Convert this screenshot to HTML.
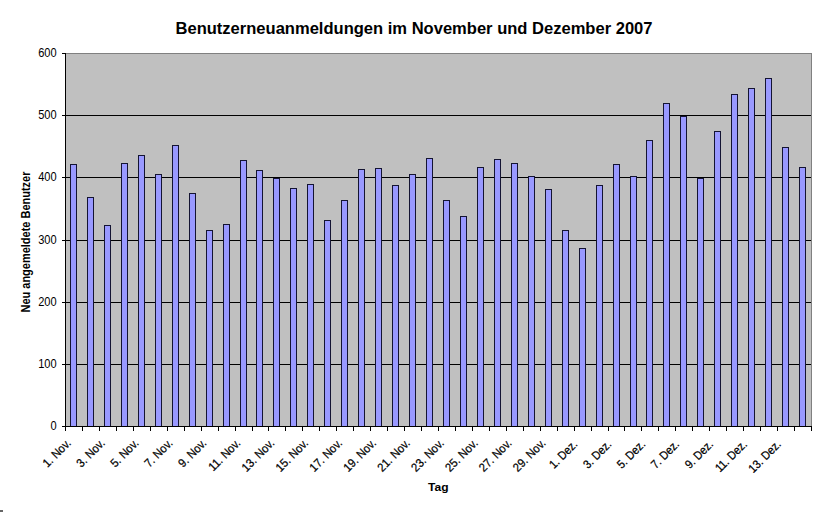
<!DOCTYPE html><html><head><meta charset="utf-8"><style>html,body{margin:0;padding:0;background:#fff;width:822px;height:512px;overflow:hidden}svg{display:block}text{font-family:"Liberation Sans",sans-serif}</style></head><body>
<svg width="822" height="512" viewBox="0 0 822 512">
<rect x="0" y="0" width="822" height="512" fill="#fff"/>
<rect x="65" y="53" width="746" height="373" fill="#c0c0c0"/>
<g shape-rendering="crispEdges">
<path d="M65 53.5H811.5V426" fill="none" stroke="#808080" stroke-width="1"/>
<path d="M65 364.5H811" stroke="#000" stroke-width="1"/>
<path d="M65 302.5H811" stroke="#000" stroke-width="1"/>
<path d="M65 240.5H811" stroke="#000" stroke-width="1"/>
<path d="M65 177.5H811" stroke="#000" stroke-width="1"/>
<path d="M65 115.5H811" stroke="#000" stroke-width="1"/>
<rect x="70.5" y="164.5" width="6" height="262" fill="#9999ff" stroke="#141432" stroke-width="1"/>
<rect x="87.5" y="197.5" width="6" height="229" fill="#9999ff" stroke="#141432" stroke-width="1"/>
<rect x="104.5" y="225.5" width="6" height="201" fill="#9999ff" stroke="#141432" stroke-width="1"/>
<rect x="121.5" y="163.5" width="6" height="263" fill="#9999ff" stroke="#141432" stroke-width="1"/>
<rect x="138.5" y="155.5" width="6" height="271" fill="#9999ff" stroke="#141432" stroke-width="1"/>
<rect x="155.5" y="174.5" width="6" height="252" fill="#9999ff" stroke="#141432" stroke-width="1"/>
<rect x="172.5" y="145.5" width="6" height="281" fill="#9999ff" stroke="#141432" stroke-width="1"/>
<rect x="189.5" y="193.5" width="6" height="233" fill="#9999ff" stroke="#141432" stroke-width="1"/>
<rect x="206.5" y="230.5" width="6" height="196" fill="#9999ff" stroke="#141432" stroke-width="1"/>
<rect x="223.5" y="224.5" width="6" height="202" fill="#9999ff" stroke="#141432" stroke-width="1"/>
<rect x="240.5" y="160.5" width="6" height="266" fill="#9999ff" stroke="#141432" stroke-width="1"/>
<rect x="256.5" y="170.5" width="6" height="256" fill="#9999ff" stroke="#141432" stroke-width="1"/>
<rect x="273.5" y="178.5" width="6" height="248" fill="#9999ff" stroke="#141432" stroke-width="1"/>
<rect x="290.5" y="188.5" width="6" height="238" fill="#9999ff" stroke="#141432" stroke-width="1"/>
<rect x="307.5" y="184.5" width="6" height="242" fill="#9999ff" stroke="#141432" stroke-width="1"/>
<rect x="324.5" y="220.5" width="6" height="206" fill="#9999ff" stroke="#141432" stroke-width="1"/>
<rect x="341.5" y="200.5" width="6" height="226" fill="#9999ff" stroke="#141432" stroke-width="1"/>
<rect x="358.5" y="169.5" width="6" height="257" fill="#9999ff" stroke="#141432" stroke-width="1"/>
<rect x="375.5" y="168.5" width="6" height="258" fill="#9999ff" stroke="#141432" stroke-width="1"/>
<rect x="392.5" y="185.5" width="6" height="241" fill="#9999ff" stroke="#141432" stroke-width="1"/>
<rect x="409.5" y="174.5" width="6" height="252" fill="#9999ff" stroke="#141432" stroke-width="1"/>
<rect x="426.5" y="158.5" width="6" height="268" fill="#9999ff" stroke="#141432" stroke-width="1"/>
<rect x="443.5" y="200.5" width="6" height="226" fill="#9999ff" stroke="#141432" stroke-width="1"/>
<rect x="460.5" y="216.5" width="6" height="210" fill="#9999ff" stroke="#141432" stroke-width="1"/>
<rect x="477.5" y="167.5" width="6" height="259" fill="#9999ff" stroke="#141432" stroke-width="1"/>
<rect x="494.5" y="159.5" width="6" height="267" fill="#9999ff" stroke="#141432" stroke-width="1"/>
<rect x="511.5" y="163.5" width="6" height="263" fill="#9999ff" stroke="#141432" stroke-width="1"/>
<rect x="528.5" y="176.5" width="6" height="250" fill="#9999ff" stroke="#141432" stroke-width="1"/>
<rect x="545.5" y="189.5" width="6" height="237" fill="#9999ff" stroke="#141432" stroke-width="1"/>
<rect x="562.5" y="230.5" width="6" height="196" fill="#9999ff" stroke="#141432" stroke-width="1"/>
<rect x="579.5" y="248.5" width="6" height="178" fill="#9999ff" stroke="#141432" stroke-width="1"/>
<rect x="596.5" y="185.5" width="6" height="241" fill="#9999ff" stroke="#141432" stroke-width="1"/>
<rect x="613.5" y="164.5" width="6" height="262" fill="#9999ff" stroke="#141432" stroke-width="1"/>
<rect x="630.5" y="176.5" width="6" height="250" fill="#9999ff" stroke="#141432" stroke-width="1"/>
<rect x="646.5" y="140.5" width="6" height="286" fill="#9999ff" stroke="#141432" stroke-width="1"/>
<rect x="663.5" y="103.5" width="6" height="323" fill="#9999ff" stroke="#141432" stroke-width="1"/>
<rect x="680.5" y="116.5" width="6" height="310" fill="#9999ff" stroke="#141432" stroke-width="1"/>
<rect x="697.5" y="178.5" width="6" height="248" fill="#9999ff" stroke="#141432" stroke-width="1"/>
<rect x="714.5" y="131.5" width="6" height="295" fill="#9999ff" stroke="#141432" stroke-width="1"/>
<rect x="731.5" y="94.5" width="6" height="332" fill="#9999ff" stroke="#141432" stroke-width="1"/>
<rect x="748.5" y="88.5" width="6" height="338" fill="#9999ff" stroke="#141432" stroke-width="1"/>
<rect x="765.5" y="78.5" width="6" height="348" fill="#9999ff" stroke="#141432" stroke-width="1"/>
<rect x="782.5" y="147.5" width="6" height="279" fill="#9999ff" stroke="#141432" stroke-width="1"/>
<rect x="799.5" y="167.5" width="6" height="259" fill="#9999ff" stroke="#141432" stroke-width="1"/>
<path d="M65.5 53V426.5H812" fill="none" stroke="#000" stroke-width="1"/>
<path d="M62 426.5H66" stroke="#000" stroke-width="1"/>
<path d="M62 364.5H66" stroke="#000" stroke-width="1"/>
<path d="M62 302.5H66" stroke="#000" stroke-width="1"/>
<path d="M62 240.5H66" stroke="#000" stroke-width="1"/>
<path d="M62 177.5H66" stroke="#000" stroke-width="1"/>
<path d="M62 115.5H66" stroke="#000" stroke-width="1"/>
<path d="M62 53.5H66" stroke="#000" stroke-width="1"/>
<path d="M65.5 426V431" stroke="#000" stroke-width="1"/>
<path d="M82.5 426V431" stroke="#000" stroke-width="1"/>
<path d="M99.5 426V431" stroke="#000" stroke-width="1"/>
<path d="M116.5 426V431" stroke="#000" stroke-width="1"/>
<path d="M133.5 426V431" stroke="#000" stroke-width="1"/>
<path d="M150.5 426V431" stroke="#000" stroke-width="1"/>
<path d="M167.5 426V431" stroke="#000" stroke-width="1"/>
<path d="M184.5 426V431" stroke="#000" stroke-width="1"/>
<path d="M201.5 426V431" stroke="#000" stroke-width="1"/>
<path d="M218.5 426V431" stroke="#000" stroke-width="1"/>
<path d="M235.5 426V431" stroke="#000" stroke-width="1"/>
<path d="M252.5 426V431" stroke="#000" stroke-width="1"/>
<path d="M268.5 426V431" stroke="#000" stroke-width="1"/>
<path d="M285.5 426V431" stroke="#000" stroke-width="1"/>
<path d="M302.5 426V431" stroke="#000" stroke-width="1"/>
<path d="M319.5 426V431" stroke="#000" stroke-width="1"/>
<path d="M336.5 426V431" stroke="#000" stroke-width="1"/>
<path d="M353.5 426V431" stroke="#000" stroke-width="1"/>
<path d="M370.5 426V431" stroke="#000" stroke-width="1"/>
<path d="M387.5 426V431" stroke="#000" stroke-width="1"/>
<path d="M404.5 426V431" stroke="#000" stroke-width="1"/>
<path d="M421.5 426V431" stroke="#000" stroke-width="1"/>
<path d="M438.5 426V431" stroke="#000" stroke-width="1"/>
<path d="M455.5 426V431" stroke="#000" stroke-width="1"/>
<path d="M472.5 426V431" stroke="#000" stroke-width="1"/>
<path d="M489.5 426V431" stroke="#000" stroke-width="1"/>
<path d="M506.5 426V431" stroke="#000" stroke-width="1"/>
<path d="M523.5 426V431" stroke="#000" stroke-width="1"/>
<path d="M540.5 426V431" stroke="#000" stroke-width="1"/>
<path d="M557.5 426V431" stroke="#000" stroke-width="1"/>
<path d="M574.5 426V431" stroke="#000" stroke-width="1"/>
<path d="M591.5 426V431" stroke="#000" stroke-width="1"/>
<path d="M608.5 426V431" stroke="#000" stroke-width="1"/>
<path d="M624.5 426V431" stroke="#000" stroke-width="1"/>
<path d="M641.5 426V431" stroke="#000" stroke-width="1"/>
<path d="M658.5 426V431" stroke="#000" stroke-width="1"/>
<path d="M675.5 426V431" stroke="#000" stroke-width="1"/>
<path d="M692.5 426V431" stroke="#000" stroke-width="1"/>
<path d="M709.5 426V431" stroke="#000" stroke-width="1"/>
<path d="M726.5 426V431" stroke="#000" stroke-width="1"/>
<path d="M743.5 426V431" stroke="#000" stroke-width="1"/>
<path d="M760.5 426V431" stroke="#000" stroke-width="1"/>
<path d="M777.5 426V431" stroke="#000" stroke-width="1"/>
<path d="M794.5 426V431" stroke="#000" stroke-width="1"/>
<path d="M811.5 426V431" stroke="#000" stroke-width="1"/>
</g>
<text x="0" y="0" font-size="12.3" text-anchor="end" fill="#000" transform="translate(56.6,430.1) scale(0.9,1)">0</text>
<text x="0" y="0" font-size="12.3" text-anchor="end" fill="#000" transform="translate(56.6,368.1) scale(0.9,1)">100</text>
<text x="0" y="0" font-size="12.3" text-anchor="end" fill="#000" transform="translate(56.6,306.1) scale(0.9,1)">200</text>
<text x="0" y="0" font-size="12.3" text-anchor="end" fill="#000" transform="translate(56.6,244.1) scale(0.9,1)">300</text>
<text x="0" y="0" font-size="12.3" text-anchor="end" fill="#000" transform="translate(56.6,181.1) scale(0.9,1)">400</text>
<text x="0" y="0" font-size="12.3" text-anchor="end" fill="#000" transform="translate(56.6,119.1) scale(0.9,1)">500</text>
<text x="0" y="0" font-size="12.3" text-anchor="end" fill="#000" transform="translate(56.6,57.1) scale(0.9,1)">600</text>
<text x="0" y="0" font-size="12" text-anchor="end" fill="#000" stroke="#000" stroke-width="0.25" transform="translate(71.68,443.8) rotate(-45) scale(0.925,1)">1. Nov.</text>
<text x="0" y="0" font-size="12" text-anchor="end" fill="#000" stroke="#000" stroke-width="0.25" transform="translate(105.59,443.8) rotate(-45) scale(0.925,1)">3. Nov.</text>
<text x="0" y="0" font-size="12" text-anchor="end" fill="#000" stroke="#000" stroke-width="0.25" transform="translate(139.50,443.8) rotate(-45) scale(0.925,1)">5. Nov.</text>
<text x="0" y="0" font-size="12" text-anchor="end" fill="#000" stroke="#000" stroke-width="0.25" transform="translate(173.40,443.8) rotate(-45) scale(0.925,1)">7. Nov.</text>
<text x="0" y="0" font-size="12" text-anchor="end" fill="#000" stroke="#000" stroke-width="0.25" transform="translate(207.31,443.8) rotate(-45) scale(0.925,1)">9. Nov.</text>
<text x="0" y="0" font-size="12" text-anchor="end" fill="#000" stroke="#000" stroke-width="0.25" transform="translate(241.22,443.8) rotate(-45) scale(0.925,1)">11. Nov.</text>
<text x="0" y="0" font-size="12" text-anchor="end" fill="#000" stroke="#000" stroke-width="0.25" transform="translate(275.13,443.8) rotate(-45) scale(0.925,1)">13. Nov.</text>
<text x="0" y="0" font-size="12" text-anchor="end" fill="#000" stroke="#000" stroke-width="0.25" transform="translate(309.04,443.8) rotate(-45) scale(0.925,1)">15. Nov.</text>
<text x="0" y="0" font-size="12" text-anchor="end" fill="#000" stroke="#000" stroke-width="0.25" transform="translate(342.95,443.8) rotate(-45) scale(0.925,1)">17. Nov.</text>
<text x="0" y="0" font-size="12" text-anchor="end" fill="#000" stroke="#000" stroke-width="0.25" transform="translate(376.86,443.8) rotate(-45) scale(0.925,1)">19. Nov.</text>
<text x="0" y="0" font-size="12" text-anchor="end" fill="#000" stroke="#000" stroke-width="0.25" transform="translate(410.77,443.8) rotate(-45) scale(0.925,1)">21. Nov.</text>
<text x="0" y="0" font-size="12" text-anchor="end" fill="#000" stroke="#000" stroke-width="0.25" transform="translate(444.68,443.8) rotate(-45) scale(0.925,1)">23. Nov.</text>
<text x="0" y="0" font-size="12" text-anchor="end" fill="#000" stroke="#000" stroke-width="0.25" transform="translate(478.59,443.8) rotate(-45) scale(0.925,1)">25. Nov.</text>
<text x="0" y="0" font-size="12" text-anchor="end" fill="#000" stroke="#000" stroke-width="0.25" transform="translate(512.50,443.8) rotate(-45) scale(0.925,1)">27. Nov.</text>
<text x="0" y="0" font-size="12" text-anchor="end" fill="#000" stroke="#000" stroke-width="0.25" transform="translate(546.40,443.8) rotate(-45) scale(0.925,1)">29. Nov.</text>
<text x="0" y="0" font-size="12" text-anchor="end" fill="#000" stroke="#000" stroke-width="0.25" transform="translate(578.21,445.0) rotate(-45) scale(0.9,1)">1. Dez.</text>
<text x="0" y="0" font-size="12" text-anchor="end" fill="#000" stroke="#000" stroke-width="0.25" transform="translate(612.12,445.0) rotate(-45) scale(0.9,1)">3. Dez.</text>
<text x="0" y="0" font-size="12" text-anchor="end" fill="#000" stroke="#000" stroke-width="0.25" transform="translate(646.03,445.0) rotate(-45) scale(0.9,1)">5. Dez.</text>
<text x="0" y="0" font-size="12" text-anchor="end" fill="#000" stroke="#000" stroke-width="0.25" transform="translate(679.94,445.0) rotate(-45) scale(0.9,1)">7. Dez.</text>
<text x="0" y="0" font-size="12" text-anchor="end" fill="#000" stroke="#000" stroke-width="0.25" transform="translate(713.85,445.0) rotate(-45) scale(0.9,1)">9. Dez.</text>
<text x="0" y="0" font-size="12" text-anchor="end" fill="#000" stroke="#000" stroke-width="0.25" transform="translate(747.76,445.0) rotate(-45) scale(0.9,1)">11. Dez.</text>
<text x="0" y="0" font-size="12" text-anchor="end" fill="#000" stroke="#000" stroke-width="0.25" transform="translate(781.67,445.0) rotate(-45) scale(0.9,1)">13. Dez.</text>
<text x="175.5" y="34" font-size="16" font-weight="bold" textLength="477" lengthAdjust="spacingAndGlyphs" fill="#000">Benutzerneuanmeldungen im November und Dezember 2007</text>
<text x="0" y="0" font-size="12" font-weight="bold" text-anchor="middle" fill="#000" textLength="141" lengthAdjust="spacingAndGlyphs" transform="translate(30,242) rotate(-90)">Neu angemeldete Benutzer</text>
<text x="428" y="491" font-size="11.5" font-weight="bold" textLength="20.5" lengthAdjust="spacingAndGlyphs" fill="#000">Tag</text>
<rect x="0" y="510" width="3" height="2" fill="#666"/>
</svg></body></html>
